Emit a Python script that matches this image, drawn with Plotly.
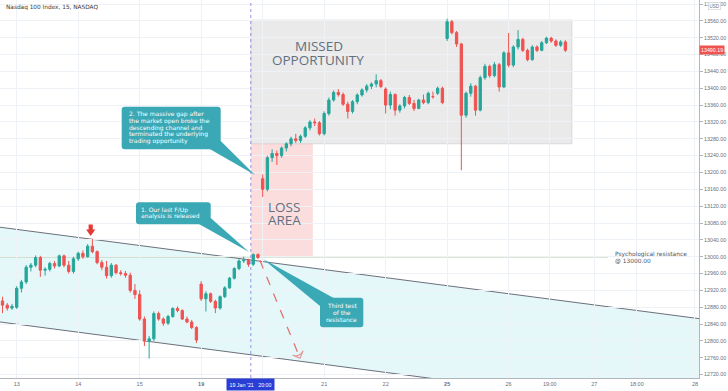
import plotly.graph_objects as go

# ---------------- data (30-minute candles, x = bar index from Jan 13 open) ----------------
bar_index = list(range(-3, 117))
opens = [12895, 12885, 12878,
         12880, 12925, 12940, 12975, 12980, 12998, 12968, 12970, 12984, 12978, 13002, 12980, 12965,
         12995, 13008, 13000, 13025, 13012, 12986, 12975, 12955, 12980, 12962, 12960, 12956, 12920,
         12910, 12852, 12800, 12805, 12865, 12852, 12842, 12858, 12877, 12872, 12852, 12845, 12832,
         12935, 12900, 12912, 12894, 12878, 12905, 12926, 12949, 12972, 12990, 12992, 12982, 13005,
         13185, 13160, 13235, 13245, 13240, 13258, 13268, 13280, 13276, 13286, 13306, 13320, 13318,
         13292, 13340, 13372, 13390, 13385, 13362, 13345, 13368, 13384, 13396, 13405, 13410, 13418,
         13398, 13360, 13385, 13348, 13358, 13378, 13364, 13352, 13372, 13366, 13380, 13388, 13400,
         13518, 13558, 13532, 13505, 13336, 13388, 13405, 13348, 13425, 13452, 13430, 13456, 13403,
         13484, 13455, 13498, 13516, 13490, 13468, 13498, 13490, 13508, 13519, 13512, 13502, 13510]
highs = [12905, 12890, 12888,
         12930, 12945, 12980, 12985, 13003, 13002, 12975, 12988, 12990, 13005, 13005, 12990, 13000,
         13012, 13015, 13030, 13042, 13015, 12992, 12990, 12985, 12982, 12968, 12966, 12962, 12935,
         12920, 12858, 12812, 12870, 12870, 12856, 12862, 12880, 12882, 12875, 12858, 12850, 12835,
         12942, 12918, 12915, 12898, 12908, 12930, 12952, 12975, 12994, 13000, 12995, 13008, 13008,
         13195, 13240, 13255, 13252, 13262, 13272, 13285, 13292, 13290, 13310, 13324, 13328, 13322,
         13345, 13378, 13395, 13398, 13390, 13368, 13372, 13388, 13400, 13410, 13414, 13433, 13422,
         13402, 13392, 13388, 13362, 13382, 13384, 13372, 13375, 13385, 13392, 13392, 13404, 13404,
         13565, 13562, 13536, 13508, 13392, 13412, 13408, 13430, 13458, 13456, 13462, 13460, 13488,
         13531, 13502, 13538, 13520, 13494, 13502, 13502, 13512, 13522, 13522, 13516, 13514, 13514]
lows = [12866, 12872, 12874,
        12876, 12915, 12935, 12965, 12975, 12952, 12955, 12965, 12972, 12975, 12975, 12960, 12960,
        12990, 12995, 12998, 13008, 12982, 12968, 12948, 12950, 12958, 12955, 12950, 12915, 12900,
        12848, 12788, 12758, 12800, 12848, 12836, 12838, 12855, 12868, 12850, 12842, 12828, 12795,
        12895, 12870, 12890, 12866, 12874, 12902, 12924, 12946, 12968, 12985, 12976, 12978, 12994,
        13142, 13155, 13225, 13218, 13235, 13250, 13262, 13270, 13270, 13282, 13300, 13310, 13288,
        13288, 13335, 13368, 13380, 13358, 13328, 13340, 13362, 13380, 13390, 13398, 13402, 13400,
        13340, 13350, 13335, 13342, 13352, 13360, 13346, 13350, 13362, 13362, 13375, 13384, 13362,
        13512, 13528, 13498, 13205, 13330, 13380, 13335, 13345, 13420, 13425, 13426, 13392, 13400,
        13450, 13450, 13492, 13486, 13464, 13465, 13486, 13488, 13505, 13508, 13498, 13498, 13486]
closes = [12885, 12878, 12882,
          12925, 12940, 12975, 12980, 12998, 12968, 12970, 12984, 12978, 13002, 12980, 12965, 12995,
          13008, 13000, 13025, 13012, 12986, 12975, 12955, 12980, 12962, 12960, 12956, 12920, 12910,
          12852, 12800, 12805, 12865, 12852, 12842, 12858, 12877, 12872, 12852, 12845, 12832, 12802,
          12900, 12912, 12894, 12878, 12905, 12926, 12949, 12972, 12990, 12992, 12982, 13005, 12998,
          13160, 13235, 13245, 13240, 13258, 13268, 13280, 13276, 13286, 13306, 13320, 13318, 13292,
          13340, 13372, 13390, 13385, 13362, 13345, 13368, 13384, 13396, 13405, 13410, 13418, 13404,
          13360, 13385, 13348, 13358, 13378, 13364, 13352, 13372, 13366, 13388, 13380, 13400, 13366,
          13558, 13532, 13505, 13336, 13388, 13405, 13348, 13425, 13452, 13430, 13456, 13403, 13484,
          13455, 13498, 13516, 13490, 13468, 13498, 13490, 13508, 13519, 13512, 13502, 13510, 13490.19]

tick_positions = [0, 13, 26, 39, 52, 65, 78, 91, 104, 112.7, 122.1, 131.1, 143.4]
tick_labels = ["13", "14", "15", "<b>19</b>", "20", "21", "22", "<b>25</b>", "26", "19:00", "27", "18:00", "28"]
y_ticks = list(range(12720, 13601, 40))

resistance = 13000.0
last_price = 13490.19

# channel anchors (bar index, price)
chan_x = [-3.53, 144.25]
chan_upper = [13070, 12853]
chan_lower = [12845, 12628]

X_RANGE = [-3.53, 144.25]
Y_RANGE = [12712, 13609.5]

# ---------------- helpers (pixel -> paper for decorations) ----------------
PW, PH = 699.0, 378.0
def PX(px): return px / PW
def PY(py): return 1 - py / PH

def rbox(x0, y0, x1, y1, r=3):
    return (f"M {PX(x0+r)},{PY(y0)} L {PX(x1-r)},{PY(y0)} Q {PX(x1)},{PY(y0)} {PX(x1)},{PY(y0+r)} "
            f"L {PX(x1)},{PY(y1-r)} Q {PX(x1)},{PY(y1)} {PX(x1-r)},{PY(y1)} "
            f"L {PX(x0+r)},{PY(y1)} Q {PX(x0)},{PY(y1)} {PX(x0)},{PY(y1-r)} "
            f"L {PX(x0)},{PY(y0+r)} Q {PX(x0)},{PY(y0)} {PX(x0+r)},{PY(y0)} Z")

def tri(pts):
    return "M " + " L ".join(f"{PX(a)},{PY(b)}" for a, b in pts) + " Z"

TEAL = "#3aa8b5"
fig = go.Figure()

fig.add_trace(go.Candlestick(
    x=bar_index, open=opens, high=highs, low=lows, close=closes,
    increasing=dict(line=dict(color="#26a69a", width=1), fillcolor="#26a69a"),
    decreasing=dict(line=dict(color="#ef5350", width=1), fillcolor="#ef5350"),
    whiskerwidth=0, hoverinfo="skip", showlegend=False))

# red dashed arrow (projection)
arrow_x = [51.4, 59.9]
arrow_y = [12992, 12759]
fig.add_trace(go.Scatter(
    x=arrow_x, y=arrow_y, mode="lines+markers",
    line=dict(color="#e57373", width=1.3, dash="dash"),
    marker=dict(symbol=["circle", "arrow-wide-open"], size=[0.1, 8], angleref="previous",
                color="#e57373", line=dict(color="#e57373", width=1.2)),
    hoverinfo="skip", showlegend=False))

shapes = []
shapes.append(dict(type="path", xref="x", yref="y", layer="below",
                   path=f"M {chan_x[0]},{chan_upper[0]} L {chan_x[1]},{chan_upper[1]} L {chan_x[1]},{chan_lower[1]} L {chan_x[0]},{chan_lower[0]} Z",
                   fillcolor="rgba(178,235,242,0.35)", line=dict(width=0)))
for ys in (chan_upper, chan_lower):
    shapes.append(dict(type="line", xref="x", yref="y", layer="below",
                       x0=chan_x[0], y0=ys[0], x1=chan_x[1], y1=ys[1],
                       line=dict(color="#6b6f7a", width=1)))
shapes.append(dict(type="rect", xref="x", yref="y", layer="below",
                   x0=49.5, x1=117.4, y0=13268, y1=13562,
                   fillcolor="rgba(150,150,155,0.2)", line=dict(color="rgba(150,150,155,0.25)", width=1)))
shapes.append(dict(type="rect", xref="x", yref="y", layer="below",
                   x0=49.5, x1=62.6, y0=resistance, y1=13268,
                   fillcolor="rgba(244,120,120,0.25)", line=dict(width=0)))
shapes.append(dict(type="line", xref="x", yref="y", layer="below",
                   x0=X_RANGE[0], x1=125.0, y0=resistance, y1=resistance,
                   line=dict(color="#79a05a", width=1.3)))
shapes.append(dict(type="line", xref="x", yref="paper", x0=49.5, x1=49.5, y0=0, y1=1,
                   line=dict(color="#9d8fe6", width=1, dash="dot")))
shapes.append(dict(type="path", xref="paper", yref="paper", path=rbox(121.7, 106.7, 220.7, 149.3),
                   fillcolor=TEAL, line=dict(width=0)))
shapes.append(dict(type="path", xref="paper", yref="paper", path=tri([(208, 148), (220.7, 141), (255, 175)]),
                   fillcolor=TEAL, line=dict(width=0)))
shapes.append(dict(type="path", xref="paper", yref="paper", path=rbox(136, 202.3, 210.7, 224.3),
                   fillcolor=TEAL, line=dict(width=0)))
shapes.append(dict(type="path", xref="paper", yref="paper", path=tri([(198, 223.5), (210.7, 218), (249, 252)]),
                   fillcolor=TEAL, line=dict(width=0)))
shapes.append(dict(type="path", xref="paper", yref="paper", path=rbox(320, 297.7, 363.3, 327.3),
                   fillcolor=TEAL, line=dict(width=0)))
shapes.append(dict(type="path", xref="paper", yref="paper", path=tri([(320, 306), (334, 298.2), (263, 259)]),
                   fillcolor=TEAL, line=dict(width=0)))
# red down arrow above the channel top
shapes.append(dict(type="path", xref="paper", yref="paper",
                   path=tri([(88.6, 224.5), (92.8, 224.5), (92.8, 229.5), (95.3, 229.5), (90.7, 236),
                             (86.1, 229.5), (88.6, 229.5)]),
                   fillcolor="#e53935", line=dict(width=0)))

ann = []
def text_lines(lines, x, y0, dy, size, color, anchor="left", family="DejaVu Sans"):
    for i, t in enumerate(lines):
        ann.append(dict(xref="paper", yref="paper", x=PX(x), y=PY(y0 + i * dy), text=t,
                        showarrow=False, xanchor=anchor, yanchor="middle",
                        font=dict(size=size, color=color, family=family)))

text_lines(["2. The massive gap after", "the market open broke the", "descending channel and",
            "terminated the underlying", "trading opportunity"], 126.5, 114.3, 6.7, 6.0, "white")
text_lines(["1. Our last F/Up", "analysis is released"], 139, 210, 6.3, 6.0, "white")
text_lines(["Third test", "of the", "resistance"], 341.7, 305.7, 6.8, 6.0, "white", anchor="center")
text_lines(["MISSED"], 319.3, 46.2, 0, 13.5, "#627080", anchor="center", family="Open Sans")
text_lines(["OPPORTUNITY"], 317.7, 59.6, 0, 13.5, "#627080", anchor="center", family="Open Sans")
text_lines(["LOSS", "AREA"], 266, 206.7, 13.5, 13.5, "#627080", family="Open Sans")
text_lines(["Psychological resistance", "@ 13000.00"], 613, 254.3, 6.8, 5.9, "#4a5566")
text_lines(["Nasdaq 100 Index, 15, NASDAQ"], 3.5, 7.3, 0, 5.8, "#3a3a3a")

ann.append(dict(xref="paper", yref="y", x=1.0, y=last_price, xanchor="left", yanchor="middle",
                text=f"{last_price:.2f}", showarrow=False, bgcolor="#ef5350", borderpad=1,
                font=dict(size=5.3, color="white", family="Liberation Sans")))
ann.append(dict(xref="paper", yref="paper", x=PX(714), y=PY(6), xanchor="center", yanchor="middle",
                text="USD", showarrow=False, bgcolor="white", bordercolor="#c9ccd4", borderwidth=0.6,
                borderpad=1, font=dict(size=4.5, color="#6b6f7a", family="Liberation Sans")))
ann.append(dict(xref="x", yref="paper", x=49.5, y=0, xanchor="center", yanchor="top",
                text="19 Jan '21\u00a0\u00a0\u00a020:00", showarrow=False, bgcolor="#2a3ed6",
                borderpad=2.5, font=dict(size=5.3, color="white", family="Liberation Sans")))

fig.update_layout(
    width=728, height=391, margin=dict(l=0, r=29, t=0, b=13),
    paper_bgcolor="white", plot_bgcolor="white",
    shapes=shapes, annotations=ann, hovermode=False, showlegend=False,
    xaxis=dict(range=X_RANGE, tickmode="array", tickvals=tick_positions, ticktext=tick_labels,
               showgrid=True, gridcolor="#eef1f6", gridwidth=1, zeroline=False,
               showline=True, linecolor="#b2b5be", linewidth=1, ticks="",
               tickfont=dict(size=5.5, color="#6b6f7a", family="Liberation Sans"),
               rangeslider=dict(visible=False), fixedrange=True),
    yaxis=dict(range=Y_RANGE, side="right", tickmode="array", tickvals=y_ticks,
               ticktext=[f"{v:.2f}" for v in y_ticks],
               showgrid=True, gridcolor="#eef1f6", gridwidth=1, zeroline=False,
               showline=True, linecolor="#b2b5be", linewidth=1,
               ticks="outside", ticklen=3, tickcolor="#b2b5be",
               tickfont=dict(size=5.3, color="#6b6f7a", family="Liberation Sans"), fixedrange=True),
)

fig.write_html("out.html", config={"displayModeBar": False},
               post_script="document.body.style.margin='0';document.body.style.overflow='hidden';")
